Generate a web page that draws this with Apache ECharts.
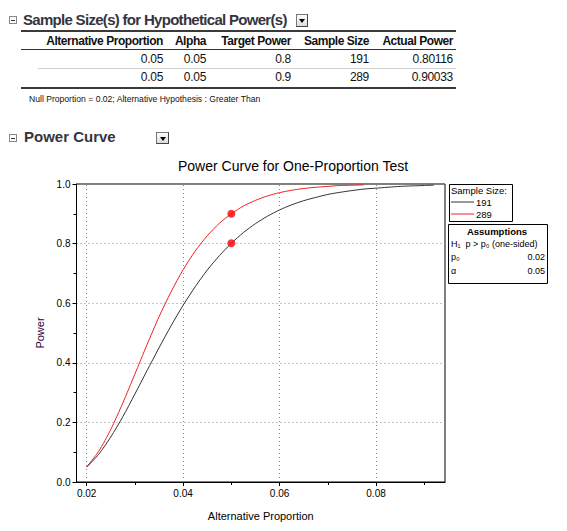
<!DOCTYPE html>
<html>
<head>
<meta charset="utf-8">
<script src="https://cdn.jsdelivr.net/npm/echarts@6/dist/echarts.min.js"></script>
<style>
  html, body { margin: 0; padding: 0; background: #fff; }
  body { width: 567px; height: 531px; position: relative; overflow: hidden; font-family: "Liberation Sans", Arial, sans-serif; }
  #chart { position: absolute; left: 0; top: 0; width: 567px; height: 531px; }
  .abs { position: absolute; white-space: nowrap; }
  .minus { position: absolute; width: 6px; height: 6px; border: 1px solid #888; background: #fff; }
  .minus::after { content: ""; position: absolute; left: 1px; top: 2.5px; width: 4px; height: 1px; background: #333; }
  .btn { position: absolute; box-sizing: border-box; border: 1px solid #777; border-right-color: #444; border-bottom-color: #444; background: linear-gradient(#fdfdfd, #dcdcdc); }
  .btn::after { content: ""; position: absolute; left: 50%; top: 50%; margin-left: -3px; margin-top: -1.5px; border-left: 3px solid transparent; border-right: 3px solid transparent; border-top: 4px solid #000; }
  .sec { font-weight: bold; font-size: 15px; color: #353540; line-height: 20px; height: 20px; }
  .hd { font-weight: bold; font-size: 12px; letter-spacing: -0.45px; color: #111; line-height: 14px; text-align: right; }
  .cell { font-size: 12px; letter-spacing: -0.3px; color: #111; line-height: 14px; text-align: right; }
  .rule { position: absolute; }
</style>
</head>
<body>
<div id="chart"></div>
<div id="report"></div>
<script>
// ---------- data ----------
const tableHeader = ['Alternative Proportion', 'Alpha', 'Target Power', 'Sample Size', 'Actual Power'];
const altProportion = ['0.05', '0.05'];
const alphaValues = ['0.05', '0.05'];
const targetPower = ['0.8', '0.9'];
const sampleSize = ['191', '289'];
const actualPower = ['0.80116', '0.90033'];
const noteText = 'Null Proportion = 0.02; Alternative Hypothesis : Greater Than';

const chartTitle = 'Power Curve for One-Proportion Test';
const proportions = [0.02, 0.0225, 0.025, 0.0275, 0.03, 0.0325, 0.035, 0.0375, 0.04, 0.0425, 0.045, 0.0475, 0.05, 0.0525, 0.055, 0.0575, 0.06, 0.0625, 0.065, 0.0675, 0.07, 0.0725, 0.075, 0.0775, 0.08, 0.085, 0.09, 0.092];
const power191 = [0.050, 0.093, 0.151, 0.219, 0.295, 0.373, 0.450, 0.524, 0.593, 0.655, 0.711, 0.759, 0.801, 0.837, 0.867, 0.892, 0.913, 0.930, 0.944, 0.955, 0.965, 0.972, 0.978, 0.983, 0.986, 0.992, 0.995, 0.996];
const power289 = [0.050, 0.103, 0.176, 0.265, 0.362, 0.460, 0.554, 0.638, 0.712, 0.775, 0.826, 0.868, 0.900, 0.926, 0.945, 0.960, 0.971, 0.979, 0.985, 0.989, 0.992, 0.995, 0.996, 0.997, null, null, null, null];
const markerX = [0.05, 0.05];
const markerY = [0.80116, 0.90033];
const xTickValues = [0.02, 0.04, 0.06, 0.08];
const xMinorValues = [0.03, 0.05, 0.07, 0.09];
const legendNames = ['191', '289'];
const assumptionRows = [['H\u2081  p > p\u2080 (one-sided)', ''], ['p\u2080', '0.02'], ['\u03b1', '0.05']];

// ---------- report (HTML text) ----------
const rep = document.getElementById('report');
function add(html) { rep.insertAdjacentHTML('beforeend', html); }
add('<div class="minus" style="left:9px;top:16px"></div>');
add('<div class="abs sec" style="left:23px;top:10px;letter-spacing:-0.7px">Sample Size(s) for Hypothetical Power(s)</div>');
add('<div class="btn" style="left:296px;top:14px;width:12px;height:13px"></div>');
add('<div class="rule" style="left:21px;top:30px;width:435px;height:2px;background:#3a3a3a"></div>');
const colRight = [163, 206, 291, 369, 453];
tableHeader.forEach((h, i) => add('<div class="abs hd" style="right:' + (567 - colRight[i]) + 'px;top:34px">' + h + '</div>'));
add('<div class="rule" style="left:21px;top:48.5px;width:435px;height:1px;background:#333"></div>');
const rows = altProportion.map((v, r) => [v, alphaValues[r], targetPower[r], sampleSize[r], actualPower[r]]);
const rowTop = [52, 70];
rows.forEach((row, r) => row.forEach((v, i) => add('<div class="abs cell" style="right:' + (567 - colRight[i]) + 'px;top:' + rowTop[r] + 'px">' + v + '</div>')));
add('<div class="rule" style="left:38px;top:67.5px;width:418px;height:1px;background:#cfcfcf"></div>');
add('<div class="rule" style="left:21px;top:86.5px;width:435px;height:2px;background:#3a3a3a"></div>');
add('<div class="abs" style="left:29px;top:93px;font-size:8.6px;line-height:12px;color:#111">' + noteText + '</div>');
add('<div class="minus" style="left:9px;top:134px"></div>');
add('<div class="abs sec" style="left:24px;top:127px">Power Curve</div>');
add('<div class="btn" style="left:156px;top:132px;width:13px;height:12px"></div>');

// ---------- chart ----------
const chart = echarts.init(document.getElementById('chart'), null, { renderer: 'svg' });
const FONT = '"Liberation Sans", Arial, sans-serif';
const gridLeft = 76.5, gridTop = 184, gridRight = 445, gridBottom = 482;
const xMin = 0.0179, xMax = 0.0943;

const line191 = proportions.map((p, i) => [p, power191[i]]);
const line289 = proportions.map((p, i) => [p, power289[i]]);
const markers = markerX.map((x, i) => [x, markerY[i]]);

const assumptionGraphics = [];
assumptionGraphics.push({ type: 'rect', shape: { x: 448.5, y: 224.5, width: 99, height: 59 }, style: { fill: '#fff', stroke: '#000', lineWidth: 1 }, z: 1 });
assumptionGraphics.push({ type: 'text', x: 497, y: 231, style: { text: 'Assumptions', font: 'bold 9.5px ' + FONT, fill: '#000', textAlign: 'center', textVerticalAlign: 'middle' }, z: 2 });
const rowY = [243.5, 257, 271];
assumptionRows.forEach((r, i) => {
  assumptionGraphics.push({ type: 'text', x: 451, y: rowY[i], style: { text: r[0], font: '9px ' + FONT, fill: '#000', textAlign: 'left', textVerticalAlign: 'middle' }, z: 2 });
  if (r[1]) assumptionGraphics.push({ type: 'text', x: 545, y: rowY[i], style: { text: r[1], font: '9px ' + FONT, fill: '#000', textAlign: 'right', textVerticalAlign: 'middle' }, z: 2 });
});

const option = {
  animation: false,
  backgroundColor: 'transparent',
  title: {
    text: chartTitle, left: 178, top: 159, padding: 0,
    textStyle: { fontFamily: FONT, fontSize: 14, fontWeight: 'normal', color: '#000' }
  },
  grid: {
    left: gridLeft, top: gridTop, width: gridRight - gridLeft, height: gridBottom - gridTop,
    show: true, borderColor: '#000', borderWidth: 1, backgroundColor: 'transparent'
  },
  legend: {
    data: legendNames, orient: 'vertical', left: 451, top: 196, padding: 0,
    itemGap: 0, itemWidth: 23, itemHeight: 1, icon: 'rect',
    textStyle: { fontFamily: FONT, fontSize: 9.5, lineHeight: 12, color: '#000', padding: [0, 0, 0, -3] },
    selectedMode: false
  },
  xAxis: [{
    type: 'value', min: xMin, max: xMax,
    name: 'Alternative Proportion', nameLocation: 'middle', nameGap: 28,
    nameTextStyle: { fontFamily: FONT, fontSize: 11, color: '#000' },
    axisLine: { show: true, lineStyle: { color: '#000', width: 1 } },
    axisTick: { show: true, customValues: xTickValues, length: 4, lineStyle: { color: '#000' } },
    axisLabel: { customValues: xTickValues, formatter: v => v.toFixed(2), fontFamily: FONT, fontSize: 10, color: '#000', margin: 6 },
    splitLine: { show: false }
  }, {
    type: 'value', min: xMin, max: xMax, position: 'bottom',
    axisLine: { show: false },
    axisTick: { show: true, customValues: xMinorValues, length: 3, lineStyle: { color: '#000' } },
    axisLabel: { show: false },
    splitLine: { show: false }
  }],
  yAxis: {
    type: 'value', min: 0, max: 1, interval: 0.2,
    name: 'Power', nameLocation: 'middle', nameGap: 31, nameRotate: 90,
    nameTextStyle: { fontFamily: FONT, fontSize: 11, color: '#300030' },
    axisLine: { show: true, lineStyle: { color: '#000', width: 1 } },
    axisTick: { show: true, length: 4, lineStyle: { color: '#000' } },
    minorTick: { show: true, splitNumber: 2, length: 3, lineStyle: { color: '#000' } },
    axisLabel: { formatter: v => v.toFixed(1), fontFamily: FONT, fontSize: 10, color: '#000', margin: 6 },
    splitLine: { show: true, lineStyle: { color: '#8a8a8a', type: [1, 3], width: 1 } }
  },
  graphic: [
    { type: 'rect', shape: { x: 449.5, y: 184.5, width: 63, height: 37 }, style: { fill: '#fff', stroke: '#000', lineWidth: 1 }, z: 1 },
    { type: 'text', x: 451, y: 190.5, style: { text: 'Sample Size:', font: '9.5px ' + FONT, fill: '#000', textAlign: 'left', textVerticalAlign: 'middle' }, z: 2 }
  ].concat(assumptionGraphics),
  series: [
    {
      name: '289', type: 'line', data: line289, symbol: 'none', smooth: 0.25,
      lineStyle: { color: '#f02020', width: 1 }, itemStyle: { color: '#f02020' }, connectNulls: false, z: 2
    },
    {
      name: '191', type: 'line', data: line191, symbol: 'none', smooth: 0.25,
      lineStyle: { color: '#333333', width: 1 }, itemStyle: { color: '#333333' }, z: 3,
      markLine: {
        silent: true, symbol: 'none', label: { show: false },
        lineStyle: { color: '#8a8a8a', type: [1, 3], width: 1 },
        data: xTickValues.map(v => ({ xAxis: v }))
      }
    },
    {
      name: 'target', type: 'scatter', data: markers, symbol: 'circle', symbolSize: 8,
      itemStyle: { color: '#ff0000' }, z: 5
    }
  ]
};
chart.setOption(option);
</script>
</body>
</html>
